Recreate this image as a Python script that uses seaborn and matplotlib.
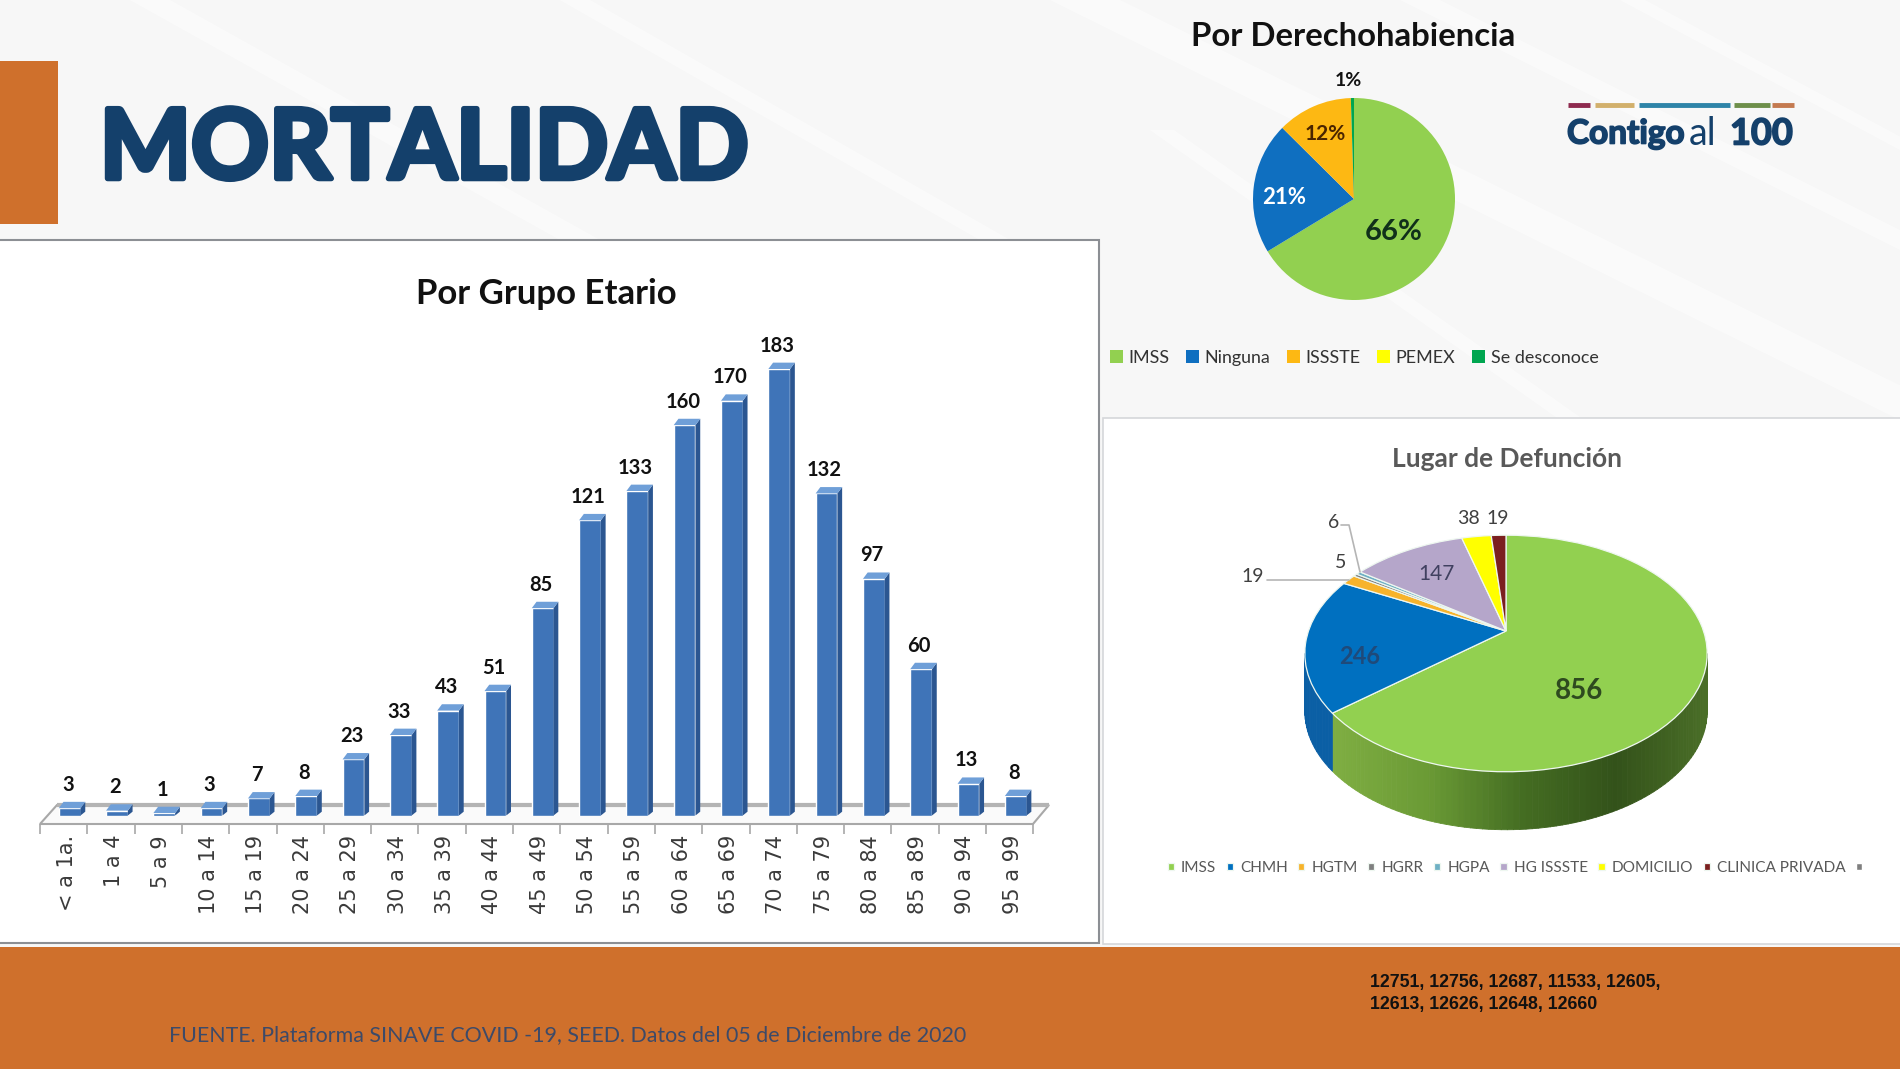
from __future__ import annotations

import matplotlib
matplotlib.use("Agg")
import matplotlib.patheffects as pe
import matplotlib.pyplot as plt
import numpy as np
import pandas as pd
import seaborn as sns
from matplotlib.collections import PolyCollection
from matplotlib.colors import LinearSegmentedColormap
from matplotlib.patches import Polygon, Rectangle
from matplotlib.transforms import ScaledTranslation, Transform

# bar chart
age_groups = ["< a 1a.", "1 a 4", "5 a 9", "10 a 14", "15 a 19", "20 a 24", "25 a 29", "30 a 34", "35 a 39",
              "40 a 44", "45 a 49", "50 a 54", "55 a 59", "60 a 64", "65 a 69", "70 a 74", "75 a 79", "80 a 84",
              "85 a 89", "90 a 94", "95 a 99"]
deaths = [3, 2, 1, 3, 7, 8, 23, 33, 43, 51, 85, 121, 133, 160, 170, 183, 132, 97, 60, 13, 8]

# flat pie, the last slice is drawn thinner than its rounded 1%
insurance = ["IMSS", "Ninguna", "ISSSTE", "PEMEX", "Se desconoce"]
insurance_share = [66, 21, 12, 0, 0.5]
insurance_labels = ["66%", "21%", "12%", "", "1%"]
insurance_colors = ["#92d050", "#0f6fc0", "#fdb813", "#ffff00", "#00a650"]

# 3d pie
places = ["IMSS", "CHMH", "HGTM", "HGRR", "HGPA", "HG ISSSTE", "DOMICILIO", "CLINICA PRIVADA"]
place_deaths = [856, 246, 19, 5, 6, 147, 38, 19]
place_colors = ["#92d050", "#0070c0", "#f7b32b", "#7f7f7f", "#6fb0c4", "#b5a6ca", "#ffff00", "#7b1f1f"]

W, H = 1900, 1069
NAVY = "#14406b"
ORANGE = "#cf702c"


def px_axes(fig, left, top, right, bottom, **kw):
    return fig.add_axes([left / W, 1 - bottom / H, (right - left) / W, (bottom - top) / H], **kw)


class Perspective(Transform):
    # tilted disc, the back of the pie is squeezed compared to the front
    input_dims = output_dims = 2

    def __init__(self, cx, cy, a, b, k):
        super().__init__()
        self.cx, self.cy, self.a, self.b, self.k = cx, cy, a, b, k

    def transform_non_affine(self, values):
        x, y = values[:, 0], values[:, 1]
        w = 1 + self.k * y
        return np.column_stack([self.cx + self.a * x / w, self.cy - self.b * y / w])


sns.set_theme(style="white")
plt.rcParams["font.family"] = ["Lato", "DejaVu Sans"]
fig = plt.figure(figsize=(W / 100, H / 100), dpi=100, facecolor="#f7f7f7")

# background, panels, footer
bg = fig.add_axes([0, 0, 1, 1], zorder=0)
bg.set(xlim=(0, W), ylim=(H, 0))
bg.axis("off")
for x0, y0, x1, y1, w in [(130, 0, 560, 240, 40), (560, 0, 980, 240, 30), (1050, 0, 1900, 420, 70),
                          (1400, 0, 1900, 250, 40), (1150, 130, 1560, 420, 24), (1620, 0, 1900, 150, 25)]:
    bg.add_patch(Polygon([(x0, y0), (x0 + w, y0), (x1 + w, y1), (x1, y1)], fc="white", ec="none", alpha=0.45))
bg.add_patch(Rectangle((0, 61), 58, 163, fc=ORANGE, ec="none"))
bg.add_patch(Rectangle((-3, 240), 1102, 703, fc="white", ec="#8c8f94", lw=1.5))
bg.add_patch(Rectangle((1103, 418), 800, 526, fc="white", ec="#d5d7da", lw=1.2))
bg.add_patch(Rectangle((0, 947), W, 122, fc=ORANGE, ec="none"))

# floor of the column chart
bg.add_patch(Polygon([(40, 824), (57, 805), (1049, 805), (1033, 824)], fc="#fafafa", ec="#a8a8a8", lw=1.5))
bg.plot([57, 1049], [805, 805], color="#b4b4b4", lw=3, solid_capstyle="butt")

# column chart
ax = px_axes(fig, 46, 327.5, 1039.4, 815.5, zorder=2)
ax.patch.set_alpha(0)
data = pd.DataFrame({"group": age_groups, "deaths": deaths})
sns.barplot(data=data, x="group", y="deaths", ax=ax, color="#3f74b8", saturation=1, width=0.46, gap=0)
ax.set(xlim=(-0.5, 20.5), ylim=(0, 200), xlabel="", ylabel="", yticks=[])
sns.despine(ax=ax, left=True, bottom=True)
dx = 0.1
dy = 2.6
for bar, value in zip(ax.patches, deaths):
    x0, x1, top = bar.get_x(), bar.get_x() + bar.get_width(), bar.get_height()
    ax.add_patch(Polygon([(x1, 0), (x1 + dx, dy * 0.6), (x1 + dx, top + dy), (x1, top)], fc="#2b5691", ec="none"))
    ax.add_patch(Polygon([(x0, top), (x0 + dx, top + dy), (x1 + dx, top + dy), (x1, top)], fc="#6f9fd8", ec="none"))
    ax.text(bar.get_x() + bar.get_width() / 2 - 0.04, top + 5.5, str(value), ha="center", va="bottom", fontsize=14.5,
            fontweight="bold", color="#111111")
ax.set_xticks(range(len(age_groups)), age_groups, rotation=90, fontsize=15, color="#3a3a3a",
              family="DejaVu Sans")
ax.tick_params(axis="x", length=0, pad=14)
shift = ScaledTranslation(-3 / 100, 0, fig.dpi_scale_trans)
for label in ax.get_xticklabels():
    label.set_transform(label.get_transform() + shift)
edges = 40 + 47.3 * np.arange(len(age_groups) + 1)
bg.vlines(edges, 824, 834, color="#a8a8a8", lw=1.2)

# flat pie
pie = px_axes(fig, 1354 - 126.25, 199 - 126.25, 1354 + 126.25, 199 + 126.25, zorder=2)
wedges, _ = pie.pie(insurance_share, colors=insurance_colors, startangle=90, counterclock=False, radius=1,
                    normalize=True, wedgeprops={"linewidth": 0})
pie.set(xlim=(-1.25, 1.25), ylim=(-1.25, 1.25))
fig.legend(wedges, insurance, ncol=5, loc="center left", bbox_to_anchor=(1101 / W, 1 - 358 / H), frameon=False,
           fontsize=12.85, handlelength=0.72, handleheight=0.72, handletextpad=0.3, columnspacing=0.95,
           labelcolor="#333333", borderpad=0)

# 3d pie
pie3 = fig.add_axes([0, 0, 1, 1], zorder=3)
wedges3, _ = pie3.pie(place_deaths, colors=place_colors, startangle=90, counterclock=False, radius=1,
                      wedgeprops={"linewidth": 0.9, "edgecolor": "#eef7f0"})
pie3.set_aspect("auto")
pie3.set(xlim=(0, W), ylim=(H, 0))
pie3.patch.set_alpha(0)
persp = Perspective(1506, 631, 197.5, 114, 0.19)
for w in wedges3:
    w.set_transform(persp + pie3.transData)
    w.set_zorder(3)

DEPTH = 58
wall_cmap = LinearSegmentedColormap.from_list(
    "wall", ["#7fae42", "#6a9a35", "#446d22", "#33521a", "#4a6e27"])
rim = lambda t: persp.transform_non_affine(np.column_stack([np.cos(np.radians(t)), np.sin(np.radians(t))]))
t_green = np.linspace(wedges3[0].theta1, -11, 90)
pts = rim(t_green)
quads = [[pts[i], pts[i + 1], pts[i + 1] + (0, DEPTH), pts[i] + (0, DEPTH)] for i in range(len(pts) - 1)]
fracs = (pts[:-1, 0] - pts[:, 0].min()) / np.ptp(pts[:, 0])
pie3.add_collection(PolyCollection(quads, facecolors=wall_cmap(fracs), edgecolors=wall_cmap(fracs), lw=0.6, zorder=2))
t_blue = np.linspace(-169, wedges3[0].theta1, 16)
pts = rim(t_blue)
quads = [[pts[i], pts[i + 1], pts[i + 1] + (0, DEPTH), pts[i] + (0, DEPTH)] for i in range(len(pts) - 1)]
pie3.add_collection(PolyCollection(quads, facecolors="#0b5fa5", edgecolors="#0b5fa5", lw=0.6, zorder=2))

# extra legend entry without a name, as in the original
extra = Rectangle((0, 0), 1, 1, fc="#7f7f7f")
fig.legend(list(wedges3) + [extra], places + [""], ncol=9, loc="center left", bbox_to_anchor=(1160 / W, 1 - 868 / H),
           frameon=False, fontsize=11.05, handlelength=0.4, handleheight=0.4, handletextpad=0.45, columnspacing=0.7,
           labelcolor="#595959", borderpad=0)

# texts and leader lines on top
top = fig.add_axes([0, 0, 1, 1], zorder=5)
top.set(xlim=(0, W), ylim=(H, 0))
top.axis("off")
top.plot([1267, 1349], [580, 580], color="#b5b5b5", lw=1.2)
top.plot([1341, 1349, 1360], [525, 525, 572], color="#b5b5b5", lw=1.2)

top.text(424, 150, "MORTALIDAD", ha="center", va="center", fontsize=69.5, fontweight="bold", color=NAVY,
         path_effects=[pe.withStroke(linewidth=4, foreground=NAVY)])
top.text(546, 294, "Por Grupo Etario", ha="center", va="center", fontsize=25, fontweight="bold", color="#111111")
top.text(1353, 36, "Por Derechohabiencia", ha="center", va="center", fontsize=23.7, fontweight="bold",
         color="#111111")
top.text(1507, 459, "Lugar de Defunción", ha="center", va="center", fontsize=19, fontweight="bold", color="#595959")

pie_label_spots = [(1394, 232, 21, "#10301a"), (1284, 197, 16, "white"), (1325, 134, 15, "#4a2500"), None,
                   (1348, 81, 14, "#111111")]
for text, spot in zip(insurance_labels, pie_label_spots):
    if spot:
        top.text(spot[0], spot[1], text, ha="center", va="center", fontsize=spot[2], fontweight="bold", color=spot[3])

place_labels = [(1579, 691, 20, "#2e4a1f"), (1360, 656, 17, "#1f4a7a"), (1253, 576, 14, "#404040"),
                (1341, 563, 14, "#404040"), (1334, 523, 14, "#404040"), (1436, 574, 15, "#404060"),
                (1469, 519, 14, "#404040"), (1498, 519, 14, "#404040")]
for value, (x, y, size, color) in zip(place_deaths, place_labels):
    top.text(x, y, str(value), ha="center", va="center", fontsize=size, fontweight="bold" if value > 200 else "normal",
             color=color)

# logo
for x0, x1, color in [(1568, 1590, "#8e2a4f"), (1595, 1634, "#d2b06c"), (1639, 1730, "#2e84a8"),
                      (1734, 1770, "#6e8f4a"), (1772, 1794, "#c47a50")]:
    top.plot([x0, x1], [105, 105], color=color, lw=3.5, solid_capstyle="butt")
logo_stroke = [pe.withStroke(linewidth=1.2, foreground=NAVY)]
top.text(1567, 134, "Contigo", ha="left", va="center", fontsize=24, fontweight="bold", color=NAVY,
         path_effects=logo_stroke)
top.text(1689, 134, "al", ha="left", va="center", fontsize=27, fontweight="normal", color=NAVY)
top.text(1730, 134, "100", ha="left", va="center", fontsize=26, fontweight="bold", color=NAVY,
         path_effects=logo_stroke)

# footer
top.text(169, 1035, "FUENTE. Plataforma SINAVE COVID -19, SEED. Datos del 05 de Diciembre de 2020", ha="left", va="center",
         fontsize=15.4, color="#3d4a68")
top.text(1370, 982, "12751, 12756, 12687, 11533, 12605,", ha="left", va="center", fontsize=12.8, fontweight="bold",
         color="#111111", family="Liberation Sans")
top.text(1370, 1004, "12613, 12626, 12648, 12660", ha="left", va="center", fontsize=12.8, fontweight="bold",
         color="#111111", family="Liberation Sans")

fig.savefig("out.png", dpi=100)
plt.close(fig)
